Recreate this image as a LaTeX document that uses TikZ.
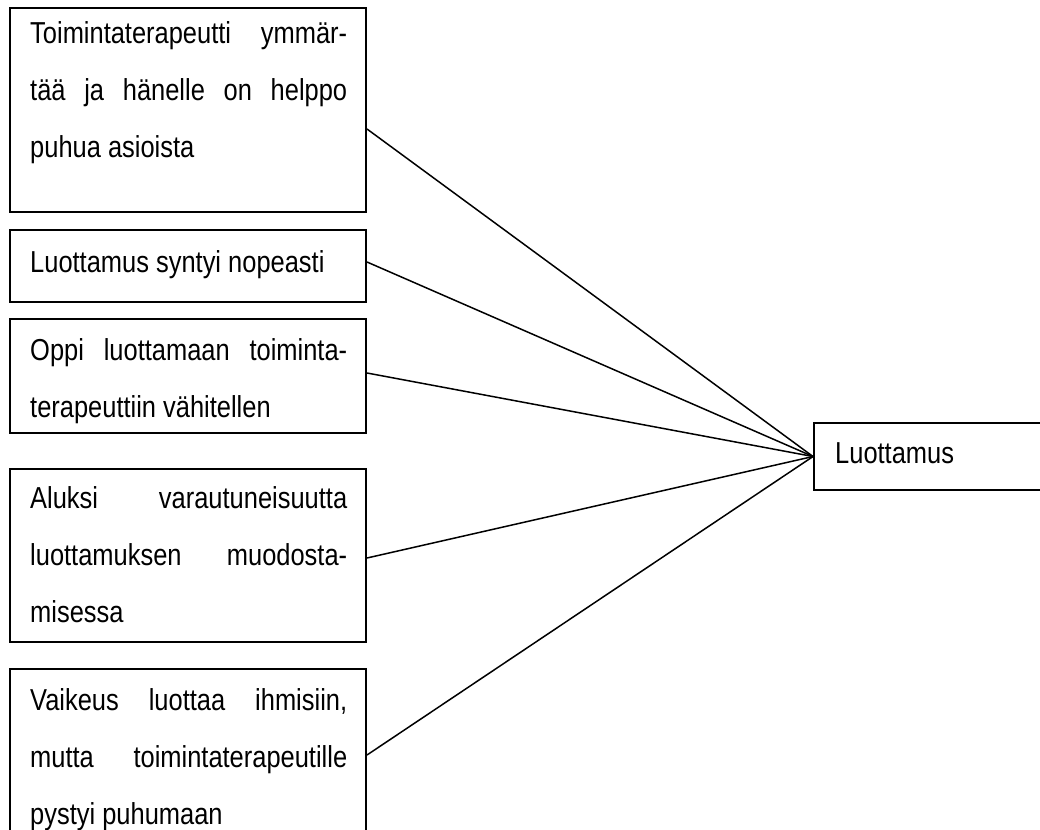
\documentclass[tikz,border=0pt]{standalone}
\usepackage{fontspec}
\setmainfont{Liberation Sans}[FakeStretch=0.84]
\begin{document}
\begin{tikzpicture}[x=1pt,y=-1pt,
  box/.style={draw=black, line width=2pt, rectangle, inner sep=0pt, anchor=north west},
  conn/.style={draw=black, line width=1.5pt},
  txt/.style={anchor=base west, inner sep=0pt, text width=317pt, align=flush left,
    font=\fontsize{30.3pt}{57pt}\selectfont},
  lbl/.style={anchor=base west, inner sep=0pt, font=\fontsize{30.3pt}{30pt}\selectfont}]
\useasboundingbox (0,0) rectangle (1040,829);
\clip (0,0) rectangle (1040,829);
% boxes
\node[box, minimum width=356pt, minimum height=204pt] (b1) at (9,7) {};
\node[box, minimum width=356pt, minimum height=72pt] (b2) at (9,229) {};
\node[box, minimum width=356pt, minimum height=114pt] (b3) at (9,318) {};
\node[box, minimum width=356pt, minimum height=173pt] (b4) at (9,468) {};
\node[box, minimum width=356pt, minimum height=190pt] (b5) at (9,668) {};
\node[box, minimum width=240pt, minimum height=67pt] (L) at (813,422) {};
% texts
\node[txt] (t1) at (30,44) {\makebox[317pt][s]{Toimintaterapeutti ymmär-}\\\makebox[317pt][s]{tää ja hänelle on helppo}\\puhua asioista};
\node[txt] (t2) at (30,272) {Luottamus syntyi nopeasti};
\node[txt] (t3) at (30,360) {\makebox[317pt][s]{Oppi luottamaan toiminta-}\\terapeuttiin vähitellen};
\node[txt] (t4) at (30,508) {\makebox[317pt][s]{Aluksi varautuneisuutta}\\\makebox[317pt][s]{luottamuksen muodosta-}\\misessa};
\node[txt] (t5) at (30,710) {\makebox[317pt][s]{Vaikeus luottaa ihmisiin,}\\\makebox[317pt][s]{mutta toimintaterapeutille}\\pystyi puhumaan};
\node[lbl] (tL) at (835,463) {Luottamus};
% connectors
\draw[conn] ([yshift=-122pt]b1.north east) -- (L.west);
\draw[conn] ([yshift=-33pt]b2.north east) -- (L.west);
\draw[conn] ([yshift=-55pt]b3.north east) -- (L.west);
\draw[conn] ([yshift=-90pt]b4.north east) -- (L.west);
\draw[conn] ([yshift=-87pt]b5.north east) -- (L.west);
\end{tikzpicture}
\end{document}
